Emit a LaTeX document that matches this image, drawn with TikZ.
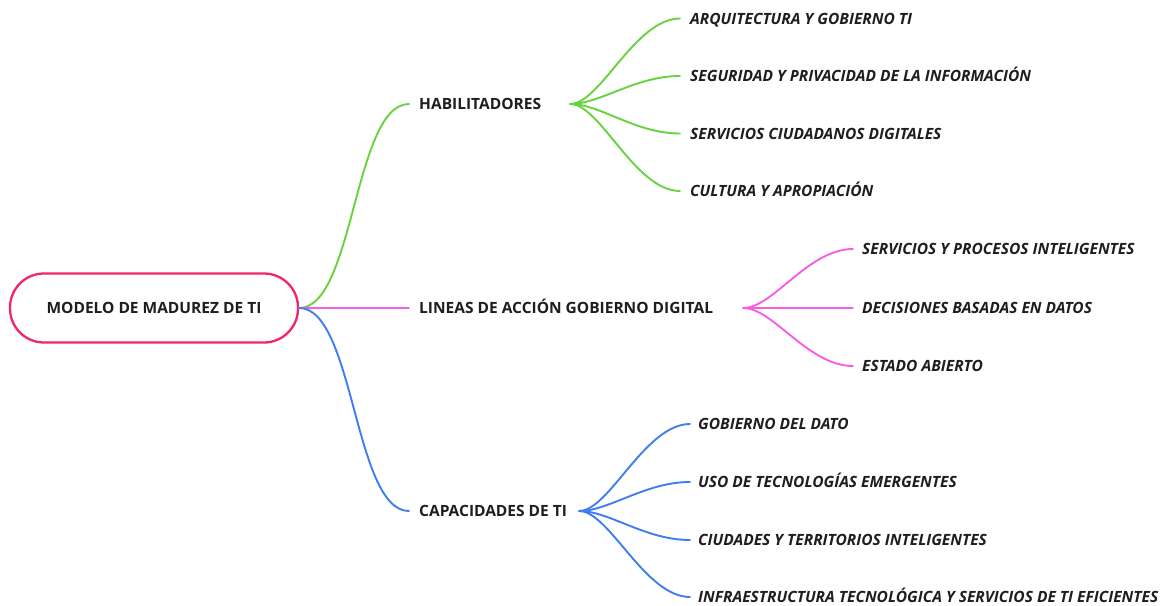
\documentclass[tikz,border=0pt]{standalone}
\usepackage{fontspec}
\setmainfont{Open Sans}
\definecolor{rootpink}{HTML}{F2246E}
\definecolor{cgreen}{HTML}{66D33F}
\definecolor{cpink}{HTML}{F55FE3}
\definecolor{cblue}{HTML}{3F7EF2}
\definecolor{txt}{HTML}{1E1E1E}
\begin{document}
\begin{tikzpicture}[x=1pt,y=-1pt,
  rootbox/.style={draw=rootpink,line width=2.3pt,rounded corners=34pt,minimum width=288pt,minimum height=69pt,inner sep=0pt,text height=11pt,text depth=0pt,font=\bfseries\fontsize{15.5}{18}\selectfont,text=txt},
  mainlbl/.style={anchor=west,inner sep=0pt,text height=11pt,text depth=0pt,font=\bfseries\fontsize{15.5}{18}\selectfont,text=txt},
  leaflbl/.style={anchor=west,inner sep=0pt,text height=11pt,text depth=0pt,font=\bfseries\itshape\fontsize{15.5}{18}\selectfont,text=txt},
  conn/.style={line width=1.9pt,line cap=round}
]
\useasboundingbox (0,0) rectangle (1169,605);
\node[rootbox] (root) at (154,308) {MODELO DE MADUREZ DE TI};

\node[mainlbl] (hab) at (419,104) {HABILITADORES};
\node[mainlbl] (lin) at (419,308) {LINEAS DE ACCIÓN GOBIERNO DIGITAL};
\node[mainlbl] (cap) at (419,511) {CAPACIDADES DE TI};

\node[leaflbl] (h1) at (690,18.5) {ARQUITECTURA Y GOBIERNO TI};
\node[leaflbl] (h2) at (690,76) {SEGURIDAD Y PRIVACIDAD DE LA INFORMACIÓN};
\node[leaflbl] (h3) at (690,133.5) {SERVICIOS CIUDADANOS DIGITALES};
\node[leaflbl] (h4) at (690,191) {CULTURA Y APROPIACIÓN};

\node[leaflbl] (l1) at (862,249) {SERVICIOS Y PROCESOS INTELIGENTES};
\node[leaflbl] (l2) at (862,308) {DECISIONES BASADAS EN DATOS};
\node[leaflbl] (l3) at (862,366) {ESTADO ABIERTO};

\node[leaflbl] (c1) at (698,424) {GOBIERNO DEL DATO};
\node[leaflbl] (c2) at (698,482) {USO DE TECNOLOGÍAS EMERGENTES};
\node[leaflbl] (c3) at (698,540) {CIUDADES Y TERRITORIOS INTELIGENTES};
\node[leaflbl] (c4) at (698,597) {INFRAESTRUCTURA TECNOLÓGICA Y SERVICIOS DE TI EFICIENTES};

% root to main branches
\draw[conn,cgreen] (root.east) .. controls ++(55,0) and ++(-55,0) .. ([xshift=-10pt]hab.west);
\draw[conn,cpink] (root.east) -- ([xshift=-10pt]lin.west);
\draw[conn,cblue] (root.east) .. controls ++(55,0) and ++(-55,0) .. ([xshift=-10pt]cap.west);

% habilitadores fan
\coordinate (hout) at ([xshift=29pt]hab.east);
\foreach \n in {h1,h2,h3,h4}{
  \draw[conn,cgreen] (hout) .. controls ++(30,0) and ++(-45,0) .. ([xshift=-10pt]\n.west);
}
% lineas fan
\coordinate (lout) at ([xshift=30pt]lin.east);
\foreach \n in {l1,l2,l3}{
  \draw[conn,cpink] (lout) .. controls ++(30,0) and ++(-45,0) .. ([xshift=-9pt]\n.west);
}
% capacidades fan
\coordinate (cout) at ([xshift=12pt]cap.east);
\foreach \n in {c1,c2,c3,c4}{
  \draw[conn,cblue] (cout) .. controls ++(30,0) and ++(-45,0) .. ([xshift=-8pt]\n.west);
}
\end{tikzpicture}
\end{document}
